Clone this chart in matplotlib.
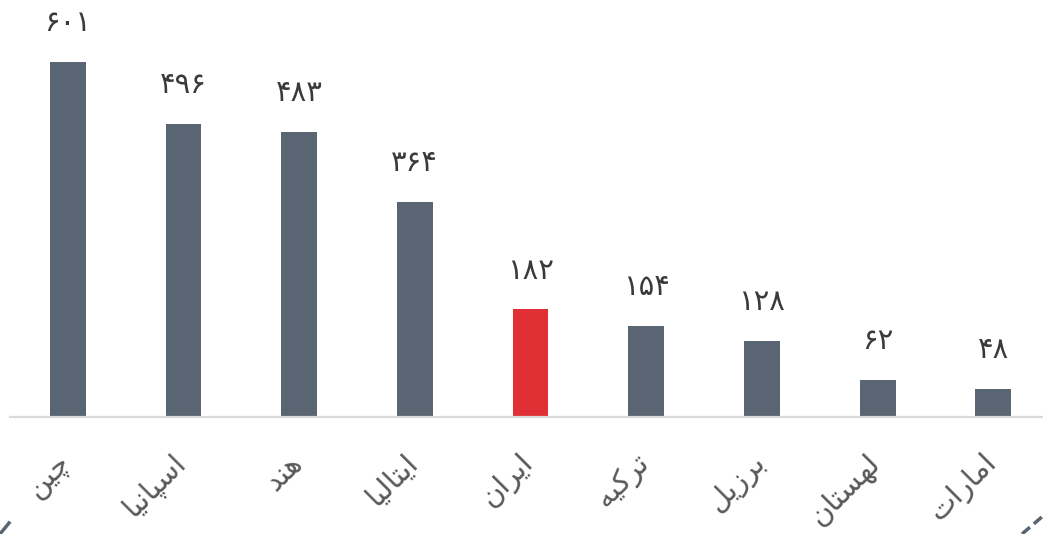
import matplotlib
matplotlib.use("Agg")
import matplotlib.pyplot as plt
from matplotlib.lines import Line2D

# data
countries = ["چین", "اسپانیا", "هند", "ایتالیا", "ایران", "ترکیه", "برزیل", "لهستان", "امارات"]
values = [601, 496, 483, 364, 182, 154, 128, 62, 48]
highlight = "ایران"

BAR = "#596573"
RED = "#e03036"

# presentation forms: isolated, final, initial, medial (None = right-joining only)
FORMS = {
    "ا": (0xFE8D, 0xFE8E, None, None),
    "ب": (0xFE8F, 0xFE90, 0xFE91, 0xFE92),
    "ت": (0xFE95, 0xFE96, 0xFE97, 0xFE98),
    "د": (0xFEA9, 0xFEAA, None, None),
    "ر": (0xFEAD, 0xFEAE, None, None),
    "ز": (0xFEAF, 0xFEB0, None, None),
    "س": (0xFEB1, 0xFEB2, 0xFEB3, 0xFEB4),
    "ل": (0xFEDD, 0xFEDE, 0xFEDF, 0xFEE0),
    "م": (0xFEE1, 0xFEE2, 0xFEE3, 0xFEE4),
    "ن": (0xFEE5, 0xFEE6, 0xFEE7, 0xFEE8),
    "ه": (0xFEE9, 0xFEEA, 0xFEEB, 0xFEEC),
    "ی": (0xFBFC, 0xFBFD, 0xFBFE, 0xFBFF),
    "پ": (0xFB56, 0xFB57, 0xFB58, 0xFB59),
    "چ": (0xFB7A, 0xFB7B, 0xFB7C, 0xFB7D),
    "ک": (0xFB8E, 0xFB8F, 0xFB90, 0xFB91),
}


def shape(word):
    """Join Persian letters by hand and put them in visual (left to right) order."""
    out = []
    n = len(word)
    for i, ch in enumerate(word):
        f = FORMS.get(ch)
        if f is None:
            out.append(ch)
            continue
        prev = FORMS.get(word[i - 1]) if i > 0 else None
        nxt = FORMS.get(word[i + 1]) if i < n - 1 else None
        join_prev = prev is not None and prev[2] is not None
        join_next = nxt is not None and f[2] is not None
        if join_prev and join_next:
            code = f[3]
        elif join_prev:
            code = f[1]
        elif join_next:
            code = f[2]
        else:
            code = f[0]
        out.append(chr(code))
    return "".join(reversed(out))


def fa_digits(v):
    return str(v).translate(str.maketrans("0123456789", "۰۱۲۳۴۵۶۷۸۹"))


plt.rcParams['font.family'] = ['DejaVu Sans']

fig = plt.figure(figsize=(10.43, 5.34), dpi=100)
ax = fig.add_axes([10 / 1043, 117 / 534, 1033 / 1043, 413.5 / 534])

x = list(range(len(countries)))
colors = [RED if c == highlight else BAR for c in countries]
ax.bar(x, values, width=0.31, color=colors, zorder=2)

for xi, v in zip(x, values):
    ax.annotate(fa_digits(v), (xi, v), xytext=(0, 28), textcoords="offset points",
                ha="center", va="center", fontsize=21, color="#3a3a3a")

for xi, c in zip(x, countries):
    ax.annotate(shape(c), (xi, 0), xytext=(-1, -30), textcoords="offset points",
                ha="right", va="center", rotation=45, rotation_mode="anchor",
                fontsize=21, color="#595959", annotation_clip=False)

ax.set_xlim(-0.5, 8.43)
ax.set_ylim(0, 700)
for s in ["top", "right", "left"]:
    ax.spines[s].set_visible(False)
ax.spines["bottom"].set_color("#d9d9d9")
ax.spines["bottom"].set_linewidth(1.6)
ax.set_xticks([])
ax.set_yticks([])

# little frame pieces at the bottom corners
fig.add_artist(Line2D([0, 9 / 1043], [0, 11 / 534], color=BAR, lw=2.5))
fig.add_artist(Line2D([1022 / 1043, 1043 / 1043], [0, 18 / 534], color=BAR, lw=2.5,
                      linestyle=(0, (3, 1.5))))

fig.savefig("out.png", dpi=100)
